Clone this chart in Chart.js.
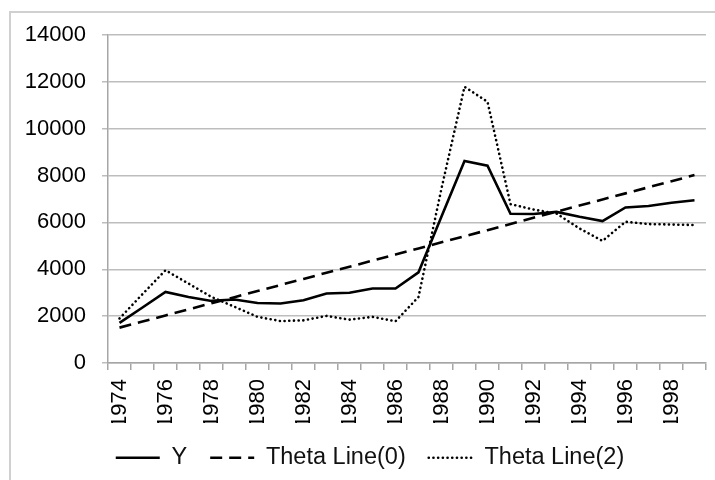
<!DOCTYPE html>
<html>
<head>
<meta charset="utf-8">
<script src="https://cdn.jsdelivr.net/npm/chart.js@4.4.1/dist/chart.umd.min.js"></script>
<style>
  html, body { margin: 0; padding: 0; background: #fff; }
  #frame { position: absolute; left: 9px; top: 11px; width: 800px; height: 600px; border: 2px solid #d0d0d0; }
  #wrap { position: absolute; left: 0; top: 0; width: 715px; height: 480px; }
</style>
</head>
<body>
<div id="frame"></div>
<div id="wrap"><canvas id="myChart" width="715" height="480"></canvas></div>
<script>
// years on the x axis
var years = ['1974','1975','1976','1977','1978','1979','1980','1981','1982','1983','1984','1985','1986',
             '1987','1988','1989','1990','1991','1992','1993','1994','1995','1996','1997','1998','1999'];

// series
var yValues = [1710, 2370, 3030, 2820, 2650, 2710, 2560, 2540, 2680, 2965, 3000, 3180, 3180,
               3870, 6250, 8620, 8420, 6370, 6360, 6450, 6240, 6060, 6640, 6700, 6840, 6950];
var theta0 = [1510, 1770, 2030, 2290, 2550, 2810, 3070, 3330, 3590, 3850, 4110, 4370, 4630,
              4890, 5150, 5410, 5670, 5930, 6200, 6460, 6720, 6980, 7240, 7500, 7760, 8020];
var theta2 = [1900, 2940, 3960, 3390, 2820, 2400, 1970, 1790, 1820, 2010, 1850, 1970, 1780,
              2820, 7450, 11790, 11150, 6780, 6550, 6380, 5740, 5210, 6030, 5930, 5910, 5890];

var seriesNames = ['Y', 'Theta Line(0)', 'Theta Line(2)'];
var yTickStep = 2000;
var yMax = 14000;

var fontFam = '"Liberation Sans", Arial, sans-serif';

// keep the legend row low and a bit to the right, like the original
var legendFit = {
  id: 'legendFit',
  beforeInit: function (chart) {
    var fit = chart.legend.fit;
    chart.legend.fit = function () {
      fit.call(this);
      this.height = 57;
    };
  },
  afterLayout: function (chart) {
    chart.legend.left += 12;
    chart.legend.right += 12;
  }
};

var ctx = document.getElementById('myChart').getContext('2d');
var myChart = new Chart(ctx, {
  type: 'line',
  data: {
    labels: years,
    datasets: [
      {
        label: seriesNames[0],
        data: yValues,
        borderColor: '#000',
        backgroundColor: '#000',
        borderWidth: 2.6,
        pointRadius: 0,
        fill: false
      },
      {
        label: seriesNames[1],
        data: theta0,
        borderColor: '#000',
        backgroundColor: '#000',
        borderWidth: 2.6,
        borderDash: [12, 7],
        pointRadius: 0,
        fill: false
      },
      {
        label: seriesNames[2],
        data: theta2,
        borderColor: '#000',
        backgroundColor: '#000',
        borderWidth: 2.6,
        borderDash: [0.1, 4.6],
        borderCapStyle: 'round',
        pointRadius: 0,
        fill: false
      }
    ]
  },
  options: {
    responsive: false,
    animation: false,
    layout: { padding: { left: 10, top: 35, right: 9, bottom: 0 } },
    plugins: {
      tooltip: { enabled: false },
      legend: {
        position: 'bottom',
        labels: {
          usePointStyle: true,
          pointStyle: 'line',
          pointStyleWidth: 44,
          padding: 23,
          color: '#111',
          font: { family: fontFam, size: 23.5 },
          generateLabels: function (chart) {
            var items = Chart.defaults.plugins.legend.labels.generateLabels(chart);
            items.forEach(function (it) {
              var ds = chart.data.datasets[it.datasetIndex];
              it.lineDash = ds.borderDash || [];
              it.lineWidth = ds.borderWidth;
              it.lineCap = ds.borderCapStyle || 'butt';
              it.strokeStyle = ds.borderColor;
            });
            return items;
          }
        }
      }
    },
    scales: {
      x: {
        offset: true,
        grid: { offset: true, drawOnChartArea: false, color: '#a6a6a6', lineWidth: 1.5, tickLength: 7 },
        border: { color: '#a6a6a6', width: 1.5 },
        ticks: {
          autoSkip: false,
          minRotation: 90,
          maxRotation: 90,
          padding: 9,
          color: '#000',
          font: { family: fontFam, size: 22 },
          callback: function (value, index) {
            return index % 2 === 0 ? this.getLabelForValue(value) : '';
          }
        },
        afterFit: function (s) {
          s.height = 60;
          s.paddingLeft = 0;
          s.paddingRight = 0;
        }
      },
      y: {
        min: 0,
        max: yMax,
        grid: { color: '#bdbdbd', lineWidth: 1.5, tickLength: 6 },
        border: { color: '#a6a6a6', width: 1.5 },
        ticks: {
          stepSize: yTickStep,
          padding: 16,
          color: '#000',
          font: { family: fontFam, size: 22 },
          callback: function (value) { return String(value); }
        },
        afterFit: function (s) { s.width = 98; }
      }
    }
  },
  plugins: [legendFit]
});
</script>
</body>
</html>
